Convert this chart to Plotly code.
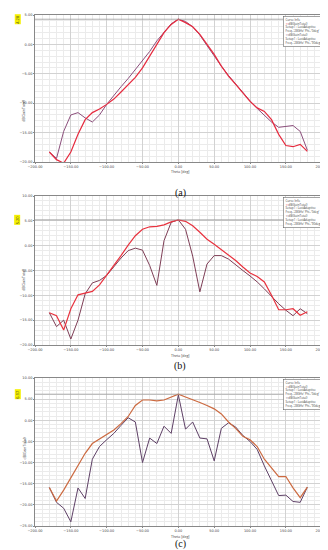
import plotly.graph_objects as go

theta = list(range(-180, 181, 10))

# Panel (a)
a_red = [-18.3, -19.6, -20.2, -18.3, -15.3, -12.8, -11.6, -11.0, -10.2, -9.3,
         -8.1, -6.9, -5.6, -4.0, -2.0, 0.1, 2.0, 3.4, 4.28, 3.7,
         3.0, 1.7, 0.1, -1.7, -3.7, -5.4, -6.8, -8.2, -9.7, -10.8,
         -11.4, -12.8, -15.3, -17.2, -17.4, -17.0, -18.2]
a_pur = [-18.3, -19.4, -14.8, -12.0, -11.6, -12.5, -13.2, -12.0, -10.2, -8.6,
         -7.2, -5.8, -4.3, -2.9, -1.2, 0.6, 2.1, 3.5, 4.28, 3.9,
         3.0, 1.6, -0.2, -2.0, -3.7, -5.3, -6.8, -8.2, -9.6, -10.9,
         -12.0, -13.2, -14.1, -14.0, -13.8, -14.8, -18.0]

# Panel (b)
b_red = [-13.5, -14.1, -17.0, -12.7, -9.9, -9.5, -9.2, -7.9, -6.0, -4.0,
         -2.0, 0.1, 2.0, 3.3, 3.8, 3.9, 4.2, 4.8, 5.2, 4.9,
         4.0, 2.7, 1.3, 0.3, -0.8, -1.9, -3.0, -4.3, -5.5, -6.2,
         -7.3, -10.0, -12.9, -12.9, -12.7, -14.0, -13.3]
b_pur = [-13.5, -16.3, -15.0, -18.8, -15.0, -9.7, -7.5, -7.0, -6.0, -4.2,
         -2.5, -1.0, -0.5, -0.9, -4.0, -8.0, 1.0, 4.7, 5.2, 3.3,
         -2.1, -9.3, -3.7, -2.0, -2.0, -2.7, -3.9, -5.0, -6.1, -7.3,
         -8.7, -10.3, -11.7, -13.0, -14.1, -12.7, -13.7]

# Panel (c)
c_red = [-15.9, -19.1, -16.5, -13.7, -10.8, -7.8, -5.5, -4.5, -3.5, -2.3,
         -0.8, 0.9, 3.5, 4.8, 4.8, 4.6, 4.8, 5.5, 6.17, 5.5,
         4.9, 4.2, 3.5, 2.7, 1.5, -0.4, -1.9, -3.8, -4.6, -6.2,
         -9.2, -11.2, -13.3, -13.3, -16.0, -18.3, -15.8]
c_pur = [-15.9, -19.4, -20.8, -24.0, -16.0, -18.5, -9.2, -6.2, -4.6, -3.1,
         -1.2, 0.6, -0.4, -10.0, -4.2, -5.5, -1.4, -3.1, 6.0, -2.1,
         -0.4, -4.2, -4.4, -9.6, -1.9, -0.6, -1.6, -3.6, -5.0, -6.9,
         -10.8, -14.5, -17.8, -17.7, -19.2, -19.4, -15.8]

markers = [4.28, 5.20, 6.17]
y_ranges = [(-20, 5), (-20, 10), (-25, 10)]
panel_labels = ["(a)", "(b)", "(c)"]

W, H = 328, 550
x_left, x_right = 27, 318
x_dom = [x_left / W, x_right / W]
areas = [(7, 154), (188, 337), (370, 518)]
label_y = [178, 358, 543]
colors = [("#e62a3e", "#8c4f7c"), ("#e8323e", "#7e3e56"), ("#cc6a40", "#5e4066")]
series = [(a_red, a_pur), (b_red, b_pur), (c_red, c_pur)]

fig = go.Figure()
grid_major = "#d2d2d2"
grid_minor = "#ebebeb"
tickfont = dict(size=3.5, color="#444", family="DejaVu Sans")

for i in range(3):
    top, bot = areas[i]
    ydom = [1 - bot / H, 1 - top / H]
    xa = "x" if i == 0 else f"x{i+1}"
    ya = "y" if i == 0 else f"y{i+1}"
    xk = "xaxis" if i == 0 else f"xaxis{i+1}"
    yk = "yaxis" if i == 0 else f"yaxis{i+1}"
    red, pur = series[i]
    cr, cp = colors[i]
    fig.add_trace(go.Scatter(x=theta, y=pur, mode="lines", line=dict(color=cp, width=1),
                             xaxis=xa, yaxis=ya, showlegend=False))
    fig.add_trace(go.Scatter(x=theta, y=red, mode="lines", line=dict(color=cr, width=1.2),
                             xaxis=xa, yaxis=ya, showlegend=False))
    fig.layout[xk] = dict(domain=x_dom, anchor=ya, range=[-200, 206],
                          tickvals=[-200, -150, -100, -50, 0, 50, 100, 150, 200],
                          tickformat=".2f", tickfont=tickfont, ticks="outside", ticklen=1,
                          tickcolor="#888", showgrid=True, gridcolor=grid_major, gridwidth=0.6,
                          minor=dict(dtick=10, tick0=0, showgrid=True, gridcolor=grid_minor,
                                     gridwidth=0.5),
                          showline=True, linecolor="#888", linewidth=0.8, mirror=True,
                          zeroline=False, automargin=False)
    lo, hi = y_ranges[i]
    fig.layout[yk] = dict(domain=ydom, anchor=xa, range=[lo, hi], dtick=5,
                          tickformat=".2f", tickfont=tickfont, ticks="outside", ticklen=1,
                          tickcolor="#888", showgrid=True, gridcolor=grid_major, gridwidth=0.6,
                          minor=dict(dtick=1, showgrid=True, gridcolor=grid_minor, gridwidth=0.5),
                          showline=True, linecolor="#888", linewidth=0.8, mirror=True,
                          zeroline=False, automargin=False)
    # axis titles
    fig.add_annotation(x=172 / W, xref="paper", y=1 - (bot + 10) / H,
                       yref="paper", text="Theta [deg]", showarrow=False,
                       font=dict(size=3.5, color="#444"), yanchor="middle", borderpad=0)
    fig.add_annotation(x=11 / W, xref="paper", y=1 - ((top + bot) / 2 + 10) / H,
                       yref="paper", text="dB(GainTotal)", showarrow=False, textangle=-90,
                       font=dict(size=3.5, color="#444"))
    # marker line
    fig.add_shape(type="line", xref=f"{xa} domain", yref=ya, x0=0, x1=1,
                  y0=markers[i], y1=markers[i], line=dict(color="#999", width=0.8))
    # yellow marker label
    fig.add_annotation(x=6 / W, xref="paper", y=markers[i], yref=ya, text=f"{markers[i]:.2f}",
                       showarrow=False, textangle=-90, bgcolor="#f5f000",
                       font=dict(size=4, color="#333"), borderpad=0)
    # legend box
    leg_text = ("Curve Info<br>"
                f"<span style='color:{cr}'>━</span> dB(GainTotal)<br>"
                "Setup1 : LastAdaptive<br>Freq='28GHz' Phi='0deg'<br>"
                f"<span style='color:{cp}'>━</span> dB(GainTotal)<br>"
                "Setup1 : LastAdaptive<br>Freq='28GHz' Phi='90deg'")
    fig.add_annotation(x=315 / W, xref="paper", y=1 - (top + 1) / H, yref="paper",
                       xanchor="right", yanchor="top", text=leg_text, showarrow=False,
                       align="left", font=dict(size=3, color="#444"),
                       bgcolor="white", bordercolor="#666", borderwidth=0.6, borderpad=1)
    # panel label
    fig.add_annotation(x=172 / W, xref="paper", y=1 - label_y[i] / H,
                       yref="paper", text=panel_labels[i], showarrow=False, borderpad=0,
                       font=dict(size=10, color="#111", family="Liberation Serif"))

fig.update_layout(width=W, height=H, margin=dict(l=0, r=0, t=0, b=0),
                  plot_bgcolor="white", paper_bgcolor="white", showlegend=False)

fig.write_html("out.html")
